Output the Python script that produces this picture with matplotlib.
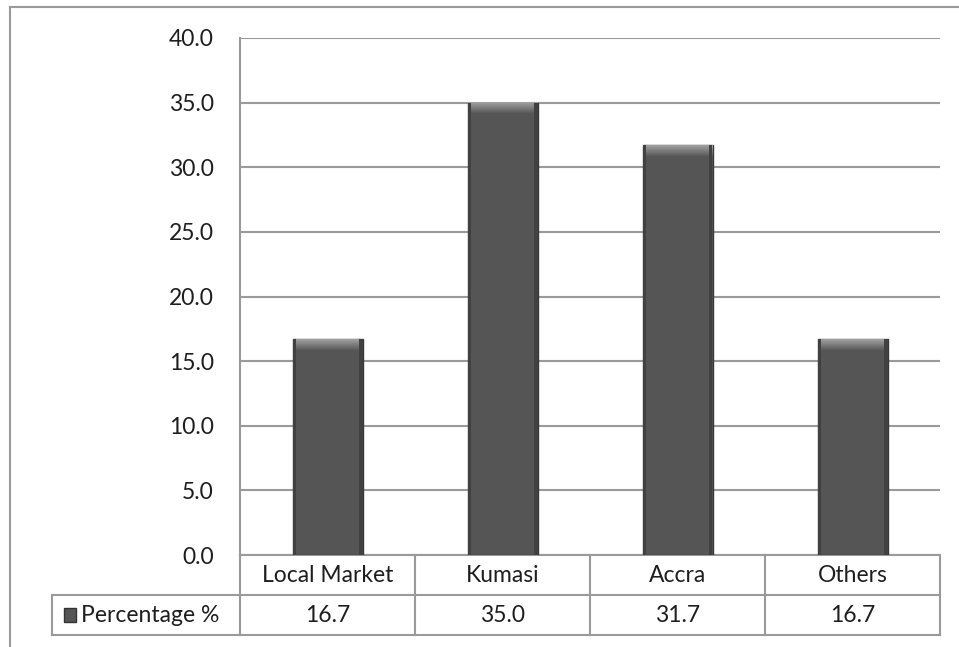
import numpy as np
import matplotlib
matplotlib.use("Agg")
import matplotlib.pyplot as plt
import matplotlib.transforms as mtransforms
from matplotlib.lines import Line2D
from matplotlib.patches import Rectangle

# Data
categories = ["Local Market", "Kumasi", "Accra", "Others"]
percentage = [16.7, 35.0, 31.7, 16.7]
series_name = "Percentage %"
yticks = [0, 5, 10, 15, 20, 25, 30, 35, 40]

plt.rcParams['font.family'] = ['Lato', 'DejaVu Sans']
FS = 16.5
TXT = '#1e1e1e'

W, H = 959, 647
fig = plt.figure(figsize=(W / 100, H / 100), dpi=100)
fig.patch.set_facecolor('white')

# plot area in pixels: x 240-940, y 38-555
ax = fig.add_axes([240 / W, 1 - 555 / H, 700 / W, 517 / H])
x = np.arange(len(categories))
bars = ax.bar(x, percentage, width=0.4, color='#555555', edgecolor='#383838',
              linewidth=1.0, zorder=3)

# bevel highlight at the top of each bar
bev = matplotlib.colors.LinearSegmentedColormap.from_list('bev', ['#555555', '#a0a0a0'])
grad = np.linspace(0.0, 1.0, 20).reshape(-1, 1)
for b in bars:
    x0, w, h = b.get_x(), b.get_width(), b.get_height()
    ax.imshow(grad, cmap=bev, extent=(x0, x0 + w, h - 0.9, h),
              aspect='auto', origin='lower', zorder=4)
    # darker side edges
    ax.add_patch(Rectangle((x0, 0), w * 0.045, h, color='#414141', zorder=5, lw=0))
    ax.add_patch(Rectangle((x0 + w * 0.955, 0), w * 0.045, h, color='#414141', zorder=5, lw=0))

ax.set_xlim(-0.5, len(categories) - 0.5)
ax.set_ylim(0, 40)
ax.set_yticks(yticks)
ax.set_yticklabels([f"{v:.1f}" for v in yticks], fontsize=FS, color=TXT)
ax.tick_params(axis='y', length=0, pad=19)
ax.set_xticks([])
ax.grid(axis='y', color='#9a9a9a', linewidth=1.5, zorder=0)
for s in ['top', 'right', 'bottom']:
    ax.spines[s].set_visible(False)
ax.spines['left'].set_color('#9a9a9a')
ax.spines['left'].set_linewidth(1.5)

# data table below the plot (x in data units, y in axes fraction)
trans = mtransforms.blended_transform_factory(ax.transData, ax.transAxes)
row_h = 40 / 517
left_cell = -0.5 - 188 / 175
line_kw = dict(color='#9a9a9a', linewidth=1.5, transform=trans, clip_on=False)
for yy in [0, -row_h, -2 * row_h]:
    x_start = -0.5 if yy == 0 else left_cell
    ax.add_line(Line2D([x_start, len(categories) - 0.5], [yy, yy], **line_kw))
for xx in np.arange(len(categories) + 1) - 0.5:
    ax.add_line(Line2D([xx, xx], [0, -2 * row_h], **line_kw))
ax.add_line(Line2D([left_cell, left_cell], [-row_h, -2 * row_h], **line_kw))

for i, (c, v) in enumerate(zip(categories, percentage)):
    ax.text(i, -row_h / 2, c, transform=trans, ha='center', va='center',
            fontsize=FS, color=TXT, clip_on=False)
    ax.text(i, -1.5 * row_h, f"{v:.1f}", transform=trans, ha='center', va='center',
            fontsize=FS, color=TXT, clip_on=False)

# legend key + series name
fig.patches.append(Rectangle((64 / W, 1 - 622 / H), 12 / W, 14 / H,
                             facecolor='#555555', edgecolor='#333333',
                             transform=fig.transFigure))
fig.text(81 / W, 1 - 615 / H, series_name, ha='left', va='center', fontsize=FS,
         color=TXT)

# outer chart border (top and left visible)
fig.add_artist(Line2D([10 / W, 958 / W], [1 - 7 / H, 1 - 7 / H], color='#9a9a9a',
                      linewidth=1.5, transform=fig.transFigure))
fig.add_artist(Line2D([10 / W, 10 / W], [1 - 7 / H, 0], color='#9a9a9a',
                      linewidth=1.5, transform=fig.transFigure))

fig.savefig("out.png", dpi=100)
